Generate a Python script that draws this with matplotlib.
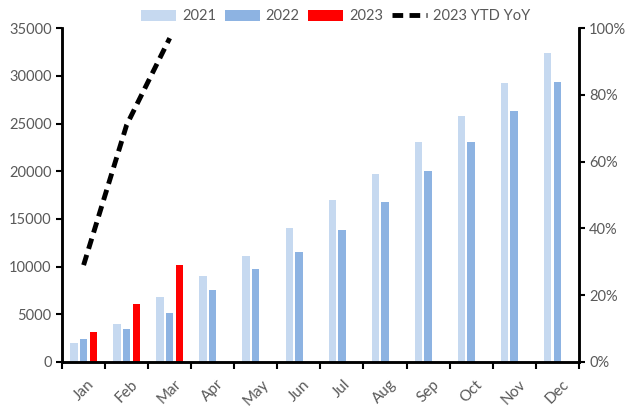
import matplotlib.pyplot as plt
import numpy as np
from matplotlib.ticker import FuncFormatter

plt.rcParams['font.family'] = ['Lato', 'DejaVu Sans']

months = ["Jan", "Feb", "Mar", "Apr", "May", "Jun",
          "Jul", "Aug", "Sep", "Oct", "Nov", "Dec"]
v2021 = [2000, 4000, 6800, 9000, 11100, 14000, 17000, 19700, 23100, 25800, 29300, 32400]
v2022 = [2400, 3500, 5100, 7500, 9700, 11500, 13800, 16800, 20000, 23100, 26300, 29400]
v2023 = [3100, 6100, 10200]
yoy_2023 = [0.29, 0.71, 0.97]

c21 = '#c6d9f0'
c22 = '#8db3e2'
c23 = '#ff0000'
grey = '#595959'

fig = plt.figure(figsize=(6.27, 4.08), dpi=100)
ax = fig.add_axes([0.099, 0.113, 0.824, 0.818])
ax2 = ax.twinx()

x = np.arange(len(months))
w = 0.17
ax.bar(x - 0.225, v2021, w, color=c21, label='2021')
ax.bar(x, v2022, w, color=c22, label='2022')
ax.bar(x[:len(v2023)] + 0.225, v2023, w, color=c23, label='2023')

ax2.plot(x[:len(yoy_2023)], yoy_2023, color='black', lw=3.5,
         dashes=(2.2, 1.3), label='2023 YTD YoY')

ax.set_xlim(-0.5, 11.5)
ax.set_ylim(0, 35000)
ax2.set_ylim(0, 1.0)
ax.set_yticks(np.arange(0, 35001, 5000))
ax2.set_yticks(np.arange(0, 1.01, 0.2))
ax2.yaxis.set_major_formatter(FuncFormatter(lambda v, p: f'{v:.0%}'))

ax.set_xticks(x)
ax.set_xticklabels(months, rotation=45, ha='center')
ax.set_xticks(np.arange(-0.5, 12, 1), minor=True)
ax.tick_params(axis='x', which='major', length=0, pad=11, labelsize=11, labelcolor=grey)
ax.tick_params(axis='x', which='minor', length=5, width=1.5, direction='out')
ax.tick_params(axis='y', length=4, width=1.5, labelsize=10.5, labelcolor=grey)
ax2.tick_params(axis='y', length=4, width=1.5, labelsize=10.5, labelcolor=grey)

for a in (ax, ax2):
    a.spines['top'].set_visible(False)
    for s in ('left', 'right', 'bottom'):
        a.spines[s].set_linewidth(1.8)

h1, l1 = ax.get_legend_handles_labels()
h2, l2 = ax2.get_legend_handles_labels()
fig.legend(h1 + h2, l1 + l2, loc='center', bbox_to_anchor=(0.535, 0.96), ncol=4,
           frameon=False, fontsize=10.5, handlelength=2.4, handleheight=0.8,
           columnspacing=0.6, handletextpad=0.4, labelcolor=grey)

fig.savefig('out.png', dpi=100)
